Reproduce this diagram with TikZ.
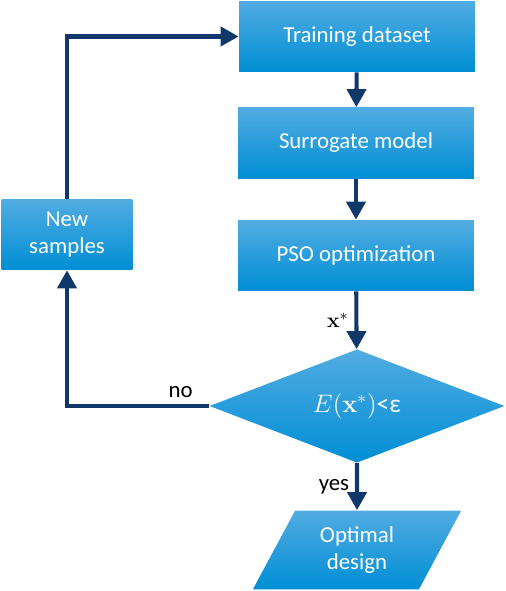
\documentclass[tikz,border=0pt]{standalone}
\usepackage[no-math]{fontspec}
\setmainfont{Carlito}
\usetikzlibrary{arrows.meta,shapes.geometric}
\definecolor{flowblue}{RGB}{16,56,106}
\definecolor{boxtop}{RGB}{82,172,226}
\definecolor{boxbot}{RGB}{0,142,212}

\begin{document}
\begin{tikzpicture}[x=0.02cm, y=-0.02cm,
  font=\fontsize{13}{15}\selectfont,
  box/.style={rectangle, top color=boxtop, bottom color=boxbot, text=white, align=center, minimum height=1.42cm},
  flow/.style={draw=flowblue, line width=2.3pt, -{Triangle[width=0.38cm, length=0.36cm]}}]

\useasboundingbox (0,0) rectangle (505,591);

% main chain, top to bottom
\node[box, minimum width=4.72cm] at (357, 36.5) (train) {Training dataset};
\node[box, minimum width=4.72cm] at (356, 143) (surr) {Surrogate model};
\node[box, minimum width=4.72cm] at (356, 255.5) (pso) {PSO optimization};

% decision
\node[box, diamond, minimum width=5.9cm, minimum height=2.24cm, inner sep=0pt,
      font=\fontsize{14.5}{16}\selectfont] at (357, 406) (dec) {$E(\mathbf{x}^{*})$<ε};

% result
\node[box, trapezium, trapezium left angle=63, trapezium right angle=117, trapezium stretches=true,
      minimum width=4.18cm, minimum height=1.58cm] at (357, 550) (opt) {Optimal\\design};

% loop back
\node[box, minimum width=2.62cm] at (67, 234.5) (news) {New\\samples};

% arrows
\draw[flow] (train) -- (surr);
\draw[flow] (surr) -- (pso);
\draw[flow] (pso) -- (dec) node[midway, left] {$\mathbf{x}^{*}$};
\draw[flow] (dec) -- (opt) node[midway, left] {yes};
\draw[flow] (dec.west) -| (news.south) node[pos=0.1, above] {no};
\draw[flow] (news.north) |- (train.west);

\end{tikzpicture}
\end{document}
